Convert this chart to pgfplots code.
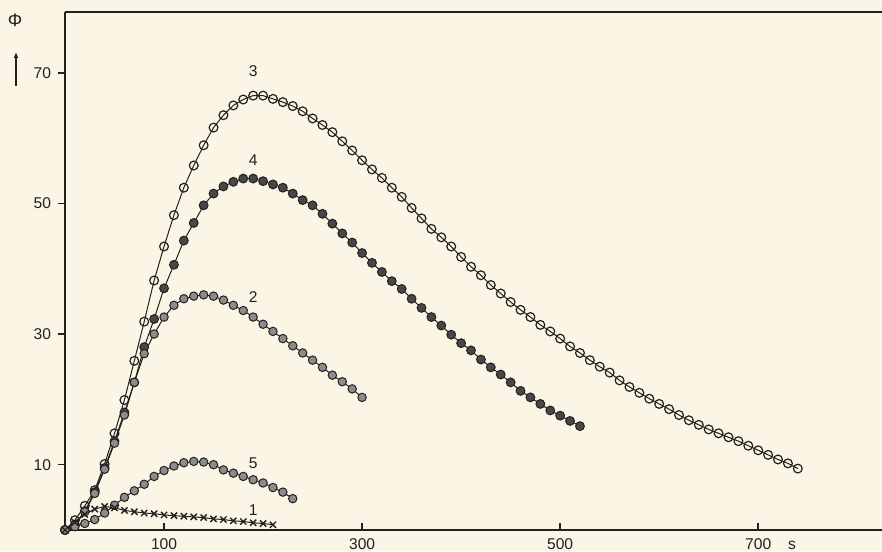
\documentclass[border=0pt]{standalone}
\usepackage{fontspec}
\setmainfont{Liberation Sans}
\usepackage{pgfplots}
\pgfplotsset{compat=1.18}
\usetikzlibrary{arrows.meta}

\definecolor{paper}{RGB}{250,245,228}
\definecolor{ink}{RGB}{35,33,30}

\pgfplotstableread{
x y
0 0
10 1.5
20 3.7
30 6.1
40 10.1
50 14.8
60 19.9
70 25.9
80 31.9
90 38.2
100 43.4
110 48.2
120 52.4
130 55.8
140 58.9
150 61.6
160 63.5
170 65.0
180 65.9
190 66.5
200 66.5
210 66.0
220 65.5
230 64.9
240 64.1
250 63.0
260 62.0
270 60.9
280 59.5
290 58.1
300 56.6
310 55.2
320 53.9
330 52.4
340 51.0
350 49.3
360 47.7
370 46.1
380 44.8
390 43.4
400 41.8
410 40.3
420 39.0
430 37.5
440 36.2
450 34.9
460 33.7
470 32.6
480 31.4
490 30.4
500 29.3
510 28.1
520 27.1
530 26.0
540 25.0
550 24.1
560 22.9
570 21.9
580 21.0
590 20.1
600 19.3
610 18.5
620 17.6
630 16.8
640 16.1
650 15.4
660 14.8
670 14.2
680 13.6
690 12.9
700 12.2
710 11.5
720 10.8
730 10.2
740 9.4
}\curvethree

\pgfplotstableread{
x y
0 0
10 0.8
20 2.9
30 5.8
40 9.5
50 13.6
60 18.0
70 22.6
80 28.0
90 32.3
100 37.0
110 40.6
120 44.3
130 47.0
140 49.7
150 51.5
160 52.6
170 53.3
180 53.8
190 53.8
200 53.4
210 52.9
220 52.4
230 51.5
240 50.5
250 49.7
260 48.4
270 46.9
280 45.4
290 44.0
300 42.4
310 40.9
320 39.5
330 38.1
340 36.9
350 35.4
360 34.0
370 32.6
380 31.3
390 29.9
400 28.6
410 27.5
420 26.1
430 24.9
440 23.8
450 22.6
460 21.3
470 20.3
480 19.3
490 18.3
500 17.5
510 16.7
520 15.9
}\curvefour

\pgfplotstableread{
x y
0 0
10 0.8
20 2.8
30 5.6
40 9.3
50 13.3
60 17.6
70 22.6
80 27.0
90 30.0
100 32.6
110 34.4
120 35.4
130 35.8
140 36.0
150 35.8
160 35.2
170 34.4
180 33.6
190 32.6
200 31.5
210 30.4
220 29.3
230 28.2
240 27.1
250 26.0
260 24.9
270 23.7
280 22.7
290 21.6
300 20.3
}\curvetwo

\pgfplotstableread{
x y
0 0
10 0.5
20 1.0
30 1.6
40 2.6
50 3.8
60 5.0
70 6.0
80 7.0
90 8.2
100 9.1
110 9.8
120 10.3
130 10.5
140 10.4
150 10.0
160 9.2
170 8.7
180 8.2
190 7.7
200 7.2
210 6.5
220 5.8
230 4.8
}\curvefive

\pgfplotstableread{
x y
0 0
10 1.2
20 2.4
30 3.2
40 3.6
50 3.4
60 3.0
70 2.8
80 2.6
90 2.5
100 2.3
110 2.2
120 2.1
130 2.0
140 1.9
150 1.7
160 1.6
170 1.4
180 1.3
190 1.1
200 1.0
210 0.8
}\curveone

\begin{document}
\begin{tikzpicture}[font=\fontsize{7.8}{9}\selectfont, color=ink]
\fill[paper] (-32.5pt,-10.5pt) rectangle (408.5pt,265pt);
\begin{axis}[
    at={(0,0)}, anchor=south west,
    scale only axis,
    width=408.5pt, height=259pt,
    xmin=0, xmax=825,
    ymin=0, ymax=79.3,
    axis x line=bottom, axis y line=left,
    axis line style={-, line width=1pt, ink},
    xtick={100,300,500,700},
    ytick={10,30,50,70},
    xtick align=inside,
    ytick align=outside,
    major tick length=3.5pt,
    tick style={line width=0.8pt, ink},
    minor tick num=0,
    xticklabel style={yshift=-1pt},
    /pgf/number format/assume math mode=true,
    clip=false,
    every axis plot/.append style={line width=0.5pt, ink},
]
\addplot[mark=o, mark size=2.2pt, mark options={fill=paper, line width=0.6pt}] table {\curvethree};
\addplot[mark=*, mark size=2.2pt, mark options={fill=black!72, draw=ink}] table {\curvefour};
\addplot[mark=*, mark size=2.1pt, mark options={fill=black!45, draw=ink}] table {\curvetwo};
\addplot[mark=*, mark size=2.1pt, mark options={fill=black!45, draw=ink}] table {\curvefive};
\addplot[mark=x, mark size=2.2pt, mark options={line width=0.7pt}] table {\curveone};
\draw[line width=1pt, ink] (rel axis cs:0,1) -- (rel axis cs:1,1);
\node at (axis cs:190,70.2) {3};
\node at (axis cs:190,56.6) {4};
\node at (axis cs:190,35.6) {2};
\node at (axis cs:190,10.3) {5};
\node at (axis cs:190,3.0) {1};
\end{axis}
\node at (-25pt,255pt) {\fontsize{9}{10}\selectfont Φ};
\draw[line width=0.9pt, -{Latex[length=3pt,width=2.5pt]}] (-24.5pt,222pt) -- (-24.5pt,239pt);
\node[anchor=base west] at (358pt,-9.5pt) {s};
\pgfresetboundingbox
\useasboundingbox (-32.5pt,-10.5pt) rectangle (408.5pt,265pt);
\end{tikzpicture}
\end{document}
